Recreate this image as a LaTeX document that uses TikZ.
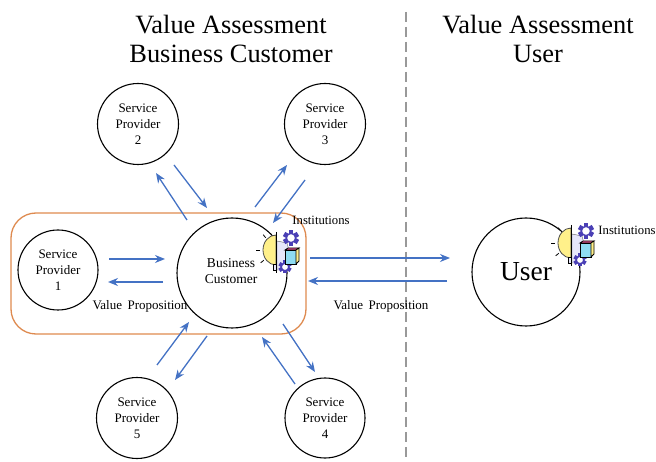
\documentclass[tikz,border=0pt]{standalone}
\usepackage{fontspec}
\usetikzlibrary{arrows.meta}
\setmainfont{Liberation Serif}
\definecolor{flowblue}{HTML}{4472C4}
\definecolor{frameorange}{HTML}{DE8A4F}
\definecolor{bulbyellow}{HTML}{FFF08A}
\definecolor{gearpurple}{HTML}{4A3FB5}
\definecolor{palelilac}{HTML}{E6E6FA}
\definecolor{boxcyan}{HTML}{8FDCF2}
\definecolor{boxpink}{HTML}{E0558F}
\tikzset{
  party/.style={draw=black, line width=1.1pt, circle, fill=white, align=center, inner sep=0pt, font=\fontsize{13}{16}\selectfont},
  flow/.style={draw=flowblue, line width=1.3pt, -{Stealth[length=10pt,width=8pt]}},
  tag/.style={font=\fontsize{13}{15}\selectfont, inner sep=0pt},
  title/.style={font=\fontsize{26.4}{29}\selectfont, align=center, inner sep=0pt},
  gear/.pic={
    \foreach \a in {0,60,...,300}
      \fill [gearpurple, rotate=\a] (-.3,.55) rectangle (.3,1);
    \filldraw [draw=gearpurple, fill=white, line width=1.4pt] (0,0) circle (.58);
  },
  insight/.pic={
    % lightbulb on the left of the bar, gears and box on the right
    \fill [white] (1,-18) rectangle (12,20);
    \filldraw [draw=black!60, fill=palelilac] (1,-9) -- (11,-7) -- (15,8) -- (9,20) -- (1,20) -- cycle;
    \filldraw [draw=black!70, fill=bulbyellow, thick] (0,15) arc (90:270:13 and 15) -- cycle;
    \filldraw [draw=black, fill=palelilac, thick] (-3,14) rectangle (0,20);
    \foreach \a in {140,180,230}
      \draw [black, thick] (\a:16) -- (\a:20);
    \draw [black, thick] (0,-18) -- (0,23);
    \pic [scale=8] at (15,-12) {gear};
    \pic [scale=6.5] at (9,17) {gear};
    \filldraw [draw=black, fill=boxcyan, thick] (9,0) rectangle (20,14);
    \filldraw [draw=black, fill=boxpink, thick] (9,0) -- (12,-2) -- (23,-2) -- (20,0) -- cycle;
    \filldraw [draw=black, fill=bulbyellow, thick] (20,0) -- (23,-2) -- (23,11) -- (20,14) -- cycle;
  }
}
\begin{document}
\begin{tikzpicture}[x=1pt, y=-1pt, >=stealth]
\useasboundingbox (0,0) rectangle (656,462);
\node [title] (titleleft) at (231,39) {Value Assessment\\Business Customer};
\node [title] (titleright) at (538,39) {Value Assessment\\User};
\coordinate (splittop) at (406,12);
\coordinate (splitbot) at (406,462);
\draw [gray!80, dash pattern=on 10pt off 5pt, line width=1.1pt] (splittop) -- (splitbot);
\node [party, minimum size=81pt] (sp2) at (138,124) {Service\\Provider\\2};
\node [party, minimum size=81pt] (sp3) at (325,124) {Service\\Provider\\3};
\node [party, minimum size=80pt] (sp1) at (58,270) {Service\\Provider\\1};
\node [party, minimum size=81pt] (sp5) at (137,418) {Service\\Provider\\5};
\node [party, minimum size=80pt] (sp4) at (325,418) {Service\\Provider\\4};
\node [party, minimum size=110pt] (biz) at (232,273) {};
\node [party, minimum size=108pt, font=\fontsize{27.5}{30}\selectfont] (user) at (526,272) {User};
\node [tag, align=center, font=\fontsize{13.5}{16}\selectfont] (bizname) at (231,271) {Business\\Customer};
\draw [frameorange, line width=1.3pt, rounded corners=25pt] (11,213) rectangle (306,334);
\pic at (276,250) {insight};
\pic at (571,243) {insight};
\node [tag, font=\fontsize{12.7}{15}\selectfont] (instleft) at (321,220) {Institutions};
\node [tag, font=\fontsize{12.7}{15}\selectfont] (instright) at (627,230) {Institutions};
\node [tag] (vpleft) at (140,306) {Value\, Proposition};
\node [tag] (vpright) at (381,306) {Value\, Proposition};
% flows between the parties
\foreach \name/\xa/\ya/\xb/\yb in {
    twoin/174/165/207/208, twoout/187/220/156/173,
    threeout/255/207/287/165, threein/305/180/273/223,
    oneout/109/259/165/259, onein/163/282/108/282,
    fiveout/157/365/189/322, fivein/207/336/175/380,
    fourout/283/324/315/372, fourin/295/384/262/337,
    userout/310/258/450/258, userin/447/281/308/281} {
  \coordinate (\name a) at (\xa,\ya);
  \coordinate (\name b) at (\xb,\yb);
  \draw [flow] (\name a) -- (\name b);
}
\end{tikzpicture}
\end{document}
